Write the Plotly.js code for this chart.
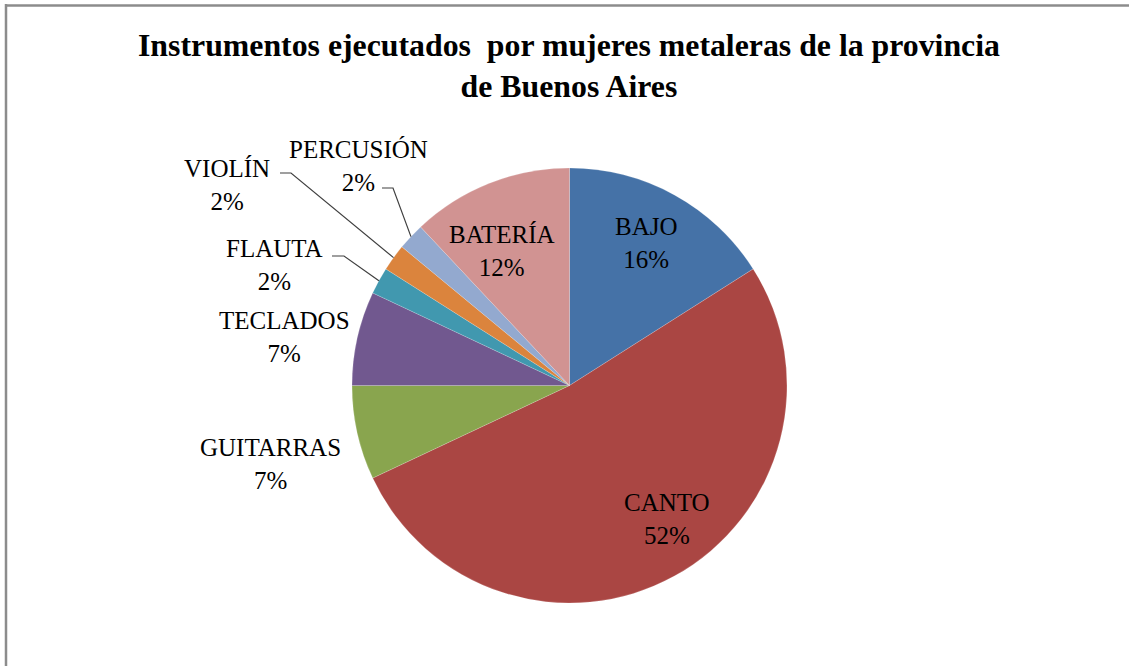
<!DOCTYPE html>
<html>
<head>
<meta charset="utf-8">
<script src="https://cdn.plot.ly/plotly-3.0.1.min.js"></script>
<style>html,body{margin:0;padding:0;background:#fff;}#chart{width:1129px;height:666px;}</style>
</head>
<body>
<div id="chart"></div>
<script>
// ---- data ----
const labels = ['BAJO', 'CANTO', 'GUITARRAS', 'TECLADOS', 'FLAUTA', 'VIOLÍN', 'PERCUSIÓN', 'BATERÍA'];
const values = [16, 52, 7, 7, 2, 2, 2, 12];
const colors = ['#4572A7', '#AA4643', '#89A54E', '#71588F', '#4198AF', '#DB843D', '#93A9CF', '#D19392'];
const titleText = '<b>Instrumentos ejecutados\u00a0 por mujeres metaleras de la provincia<br>de Buenos Aires</b>';

// ---- layout constants (pixels) ----
const W = 1129, H = 666;
const CX = 569.5, CY = 385.5, R = 217.5;
const FONT = '"Liberation Serif", "Times New Roman", Times, serif';
// label centres (pixels), per category
const labelCenters = [[646, 243], [667, 519], [270, 464], [284, 337], [274, 265], [227, 185], [358, 166], [502, 251]];
// leader lines: [category index, start point, elbow point]
const leaders = [[4, [332, 256], [344, 256]], [5, [280, 173], [291, 173]], [6, [382, 188], [393, 188]]];

const px = x => x / W;
const py = y => 1 - y / H;

const total = values.reduce((a, b) => a + b, 0);
const pctText = values.map(v => Math.round(v / total * 100) + '%');

// mid angles (degrees clockwise from 12 o'clock)
const mids = [];
let acc = 0;
values.forEach(v => { mids.push((acc + v / 2) / total * 360); acc += v; });

const annotations = labels.map((l, i) => ({
  text: l + '<br>' + pctText[i],
  x: px(labelCenters[i][0]), y: py(labelCenters[i][1]),
  xref: 'paper', yref: 'paper', xanchor: 'center', yanchor: 'middle',
  showarrow: false, align: 'center',
  font: {family: FONT, size: 25, color: '#000'}
}));
// chart title
annotations.push({
  text: titleText, x: px(569), y: py(65.5),
  xref: 'paper', yref: 'paper', xanchor: 'center', yanchor: 'middle',
  showarrow: false, align: 'center',
  font: {family: FONT, size: 31.8, color: '#000'}
});

const shapes = leaders.map(([i, s, e]) => {
  const a = mids[i] * Math.PI / 180;
  const ex = CX + R * Math.sin(a), ey = CY - R * Math.cos(a);
  return {
    type: 'path', xref: 'paper', yref: 'paper',
    path: `M ${px(s[0])} ${py(s[1])} L ${px(e[0])} ${py(e[1])} L ${px(ex)} ${py(ey)}`,
    line: {color: '#404040', width: 1.2}
  };
});
// chart frame
shapes.push({type: 'line', xref: 'paper', yref: 'paper', x0: px(6), x1: px(6), y0: py(4), y1: py(666), line: {color: '#8c8c8c', width: 2.5}});
shapes.push({type: 'line', xref: 'paper', yref: 'paper', x0: px(5), x1: 1, y0: py(5.5), y1: py(5.5), line: {color: '#8c8c8c', width: 2.5}});

const trace = {
  type: 'pie',
  labels: labels,
  values: values,
  sort: false,
  direction: 'clockwise',
  rotation: 0,
  textinfo: 'none',
  hoverinfo: 'label+percent',
  marker: {colors: colors, line: {color: 'rgba(255,255,255,0.35)', width: 0.5}},
  domain: {x: [px(CX - R), px(CX + R)], y: [py(CY + R), py(CY - R)]}
};

const layout = {
  width: W, height: H,
  margin: {l: 0, r: 0, t: 0, b: 0},
  paper_bgcolor: '#fff',
  showlegend: false,
  annotations: annotations,
  shapes: shapes
};

Plotly.newPlot('chart', [trace], layout, {displayModeBar: false, staticPlot: true});
</script>
</body>
</html>
